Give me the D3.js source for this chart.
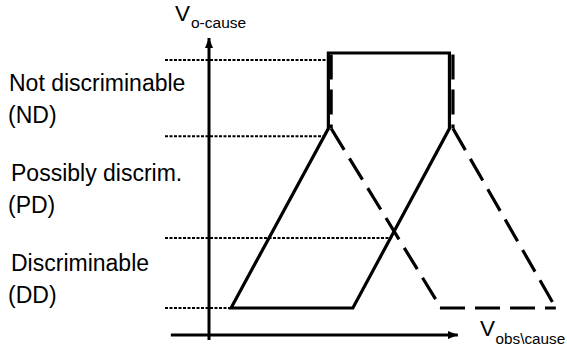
<!DOCTYPE html>
<html>
<head>
<meta charset="utf-8">
<script src="https://cdn.jsdelivr.net/npm/d3@7"></script>
<style>
  body { margin: 0; background: #fff; }
  text { font-family: "Liberation Sans", Arial, sans-serif; fill: #000; }
</style>
</head>
<body>
<div id="chart"></div>
<script>
// band names on the left, top to bottom
const bandLabels = ["Not discriminable", "Possibly discrim.", "Discriminable"];
const bandCodes = ["(ND)", "(PD)", "(DD)"];

// dotted level lines (V_o-cause) and where each one stops (V_obs\cause)
const boundaryLevels = [97.3, 67.4, 27.5, 0];
const boundaryEnds = [33.6, 33.1, 52.3, 6.3];

// solid outline: parallelogram + box on top
const solidOutline = [[6.3, 0], [34.1, 70.4], [34.1, 100], [68.7, 100], [68.7, 70.4], [41.1, 0]];

// dashed pieces
const dashedSegments = [
    [[34.9, 99.4], [34.9, 70.4]],
    [[69.7, 99.4], [69.7, 70.4]],
    [[34.9, 70.4], [66.3, 0]],
    [[69.7, 70.4], [99.1, 0]],
    [[66.0, 0], [99.1, 0]]
];

// axis extents
const xAxisRange = [-10.9, 71.1];
const yAxisRange = [-12.5, 105.9];
const xAxisLevel = -10.6;

const W = 567, H = 349;

const svg = d3.select("#chart").append("svg")
    .attr("width", W)
    .attr("height", H);

const x = d3.scaleLinear().domain([0, 100]).range([209, 559]);
const y = d3.scaleLinear().domain([0, 100]).range([308, 53]);

const line = d3.line()
    .x(d => x(d[0]))
    .y(d => y(d[1]));

// arrow head
svg.append("defs").append("marker")
    .attr("id", "arrow")
    .attr("viewBox", "0 0 10 8")
    .attr("refX", 10)
    .attr("refY", 4)
    .attr("markerWidth", 10)
    .attr("markerHeight", 8)
    .attr("markerUnits", "userSpaceOnUse")
    .attr("orient", "auto")
    .append("path")
    .attr("d", "M0,0 L10,4 L0,8 Z")
    .attr("fill", "#000");

// dotted levels
svg.selectAll(".level")
    .data(boundaryLevels)
    .enter().append("line")
    .attr("class", "level")
    .attr("x1", 165)
    .attr("x2", (d, i) => x(boundaryEnds[i]))
    .attr("y1", d => y(d))
    .attr("y2", d => y(d))
    .attr("stroke", "#000")
    .attr("stroke-width", 2)
    .attr("stroke-dasharray", "3 1.5");

// axes
svg.append("line")
    .attr("x1", x(0)).attr("x2", x(0))
    .attr("y1", y(yAxisRange[0])).attr("y2", y(yAxisRange[1]))
    .attr("stroke", "#000")
    .attr("stroke-width", 3)
    .attr("marker-end", "url(#arrow)");

svg.append("line")
    .attr("x1", x(xAxisRange[0])).attr("x2", x(xAxisRange[1]))
    .attr("y1", y(xAxisLevel)).attr("y2", y(xAxisLevel))
    .attr("stroke", "#000")
    .attr("stroke-width", 3)
    .attr("marker-end", "url(#arrow)");

// solid shape
svg.append("path")
    .datum(solidOutline)
    .attr("d", d => line(d) + "Z")
    .attr("fill", "none")
    .attr("stroke", "#000")
    .attr("stroke-width", 3.2)
    .attr("stroke-linejoin", "miter");

// dashed shape
svg.selectAll(".dash")
    .data(dashedSegments)
    .enter().append("path")
    .attr("class", "dash")
    .attr("d", line)
    .attr("fill", "none")
    .attr("stroke", "#000")
    .attr("stroke-width", 3.2)
    .attr("stroke-dasharray", "25 10");

// band labels
const labelX = [9, 11, 11];
const codeX = [8, 8, 8];
const labelBase = [90.7, 181, 270.7];
bandLabels.forEach((t, i) => {
    svg.append("text")
        .attr("x", labelX[i])
        .attr("y", labelBase[i])
        .attr("font-size", 23)
        .text(t);
    svg.append("text")
        .attr("x", codeX[i])
        .attr("y", labelBase[i] + 32.3)
        .attr("font-size", 23)
        .text(bandCodes[i]);
});

// axis titles
const yTitle = svg.append("text").attr("x", 175).attr("y", 20.7).attr("font-size", 22.5);
yTitle.append("tspan").text("V");
yTitle.append("tspan").attr("x", 191).attr("y", 27.5).attr("font-size", 15.5).text("o-cause");

const xTitle = svg.append("text").attr("x", 480).attr("y", 336).attr("font-size", 22.5);
xTitle.append("tspan").text("V");
xTitle.append("tspan").attr("x", 495.5).attr("y", 344).attr("font-size", 15.3).text("obs\\cause");
</script>
</body>
</html>
